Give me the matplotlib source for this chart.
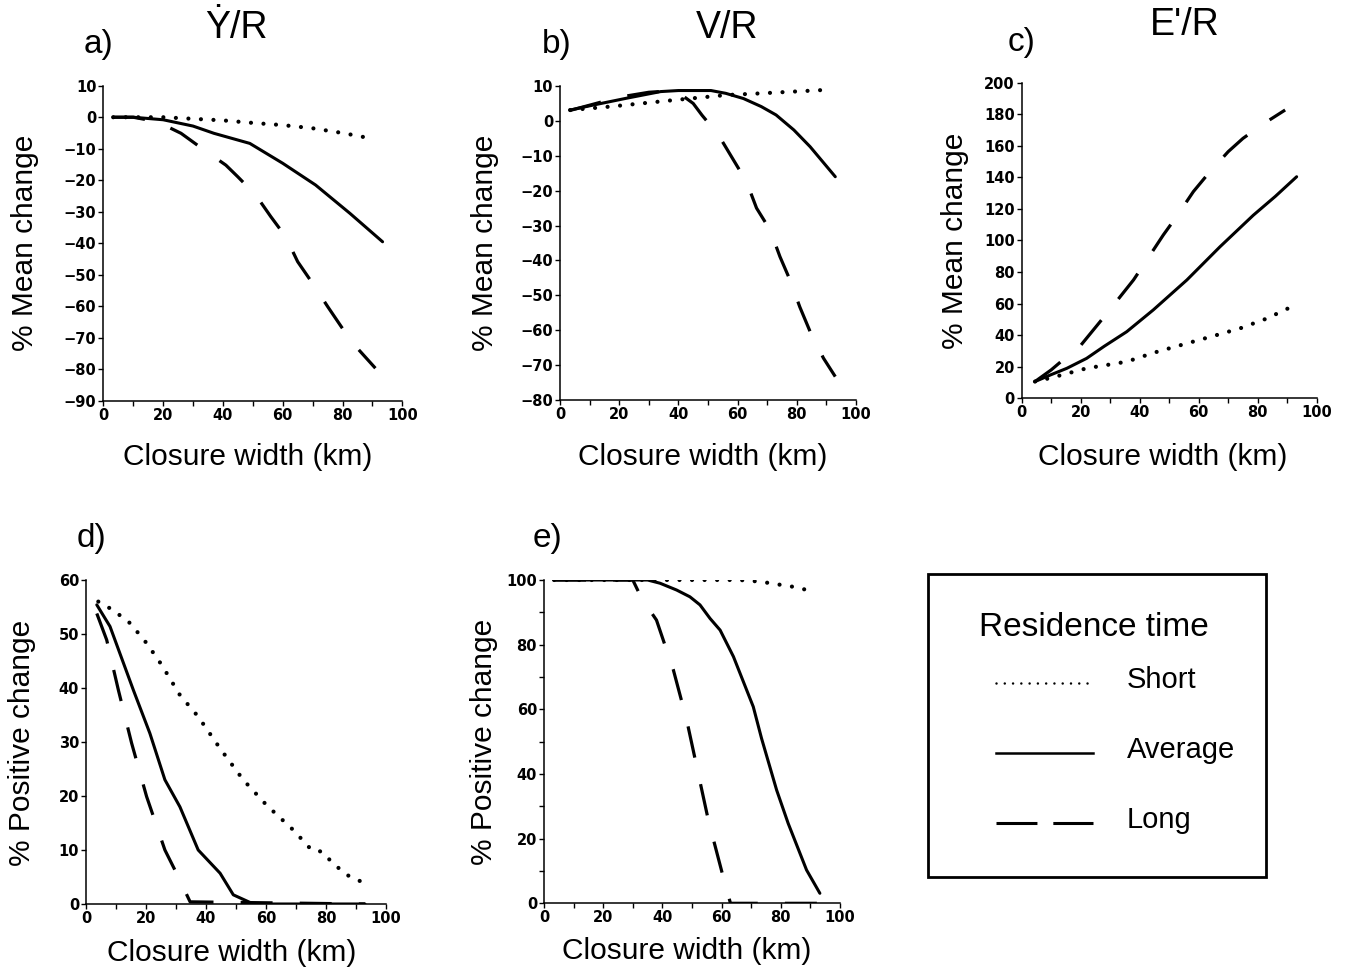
import matplotlib
matplotlib.use("Agg")
import matplotlib.pyplot as plt
from matplotlib.lines import Line2D
from matplotlib.patches import Rectangle
from matplotlib.ticker import MultipleLocator

W, H = 1348, 972

# ===================== DATA =====================
# a) Y/R  (% mean change)
a_short_x = [3.3, 10, 20, 30, 40, 50, 60, 70, 80, 90]
a_short_y = [0, 0, 0, -0.5, -1, -1.8, -2.5, -3.5, -5, -6.8]
a_avg_x = [3.3, 10, 20, 30, 37, 49, 60, 71, 82.5, 93.4]
a_avg_y = [0, 0, -0.8, -2.8, -5.1, -8.3, -14.6, -21.5, -30.5, -39.5]
a_long_x = [3.3, 10, 18, 26, 33, 41, 45, 51, 56, 61, 65, 70, 75, 80, 85, 91]
a_long_y = [0, 0, -1.4, -5.1, -9.9, -15.2, -18.9, -24.7, -31.5, -37.9,
            -45.8, -52.7, -60, -67, -73.3, -79.6]

# b) V/R
b_short_x = [3.4, 17, 39, 56, 68, 90]
b_short_y = [3.1, 4.1, 6.0, 7.4, 7.9, 8.9]
b_avg_x = [3.4, 11, 22.5, 34, 40, 51, 56, 62, 68, 73, 79, 84.5, 93]
b_avg_y = [3.1, 4.5, 6.5, 8.4, 8.7, 8.7, 7.9, 6.4, 4.1, 1.7, -2.6, -7.4, -16]
b_long_x = [3.4, 10, 20, 30, 37, 41, 45, 48, 53.5, 58.6, 63, 66.4, 71,
            74.3, 77.7, 81, 84.5, 89, 93]
b_long_y = [3, 4.5, 6.8, 8.2, 8.6, 7.5, 5, 1.6, -4, -11.2, -17.4, -25,
            -31.3, -38.9, -45.6, -53.3, -60.4, -68, -73.3]

# c) E'/R
c_short_x = [4.5, 10, 22, 35.6, 45, 56, 65, 74, 83, 91]
c_short_y = [10.6, 13, 19, 23.2, 29, 34.8, 39.5, 44.3, 50.5, 57.6]
c_avg_x = [4.5, 10, 15.3, 22, 28, 35.6, 44.6, 56, 67.2, 78.5, 86, 93.2]
c_avg_y = [10.6, 15, 19, 25.3, 33, 42.2, 56, 75, 96, 116, 128, 140.4]
c_long_x = [4.5, 10, 15.3, 19.2, 26.6, 31.6, 37.9, 42.4, 48, 52.5, 58.2,
            63.3, 70, 75, 82, 89.3]
c_long_y = [10.6, 18, 26.4, 31.7, 48.6, 60.2, 75, 87.6, 103.5, 115.2, 131,
            142.5, 156.3, 164.7, 174, 182.7]

# d) % positive change (Y/R)
d_short_x = [4.1, 9.1, 14.7, 20.2, 25.2, 31.3, 37.4, 44.7, 52.4, 60.2, 69.1,
             75.2, 78.6, 82.4, 86.9, 91.9]
d_short_y = [56, 54.4, 52, 48.3, 44.3, 38.7, 34.7, 28.8, 23, 18.3, 13.7,
             10, 9.7, 7.5, 5.4, 4.1]
d_avg_x = [3.6, 8, 15.8, 21.3, 26.3, 31.3, 37.4, 44.7, 49.1, 55.8, 93]
d_avg_y = [55.4, 51.4, 39.6, 31.6, 23, 18, 10, 5.7, 1.7, 0, 0]
d_long_x = [3.6, 6.9, 10.8, 15.2, 20.2, 26.3, 30.8, 34.7, 93]
d_long_y = [53.8, 48.9, 39.6, 29.8, 19.9, 10, 5, 0.4, 0]

# e) % positive change (V/R)
e_short_x = [3.4, 20, 40, 60, 66, 73, 84.2, 89.9]
e_short_y = [100, 100, 100, 100, 100, 99.5, 97.9, 96.7]
e_avg_x = [3.4, 35, 39.2, 44.8, 49.3, 52.7, 56.1, 59.5, 64, 70.7, 73.5,
           78.6, 82.5, 88.7, 93.2]
e_avg_y = [100, 100, 99, 96.9, 94.8, 92.3, 88.1, 84.5, 76.3, 60.8, 51, 35,
           24.7, 10.3, 3.1]
e_long_x = [3.4, 30, 33, 38, 43.7, 48.2, 51.6, 55.5, 61.1, 63, 93]
e_long_y = [100, 100, 94.3, 87.6, 72.2, 56.7, 42.3, 25.8, 6.2, 0, 0]

series_names = ["Short", "Average", "Long"]

# ===================== STYLE =====================
FONT = ["Liberation Sans", "DejaVu Sans"]
plt.rcParams["font.family"] = FONT

DOT = dict(color="black", lw=3.0, linestyle=(0, (0.01, 3.0)),
           dash_capstyle="round", solid_capstyle="round")
SOLID = dict(color="black", lw=2.2, linestyle="-", solid_capstyle="round")
DASH = dict(color="black", lw=2.3, linestyle=(0, (10, 8.5)),
            dash_capstyle="butt")

fig = plt.figure(figsize=(W / 100, H / 100), dpi=100)


def px(x, y):
    return x / W, 1 - y / H


def make_ax(x0, x1, ytop, ybot, ylim, ymajor, yminor=None):
    ax = fig.add_axes([x0 / W, 1 - ybot / H, (x1 - x0) / W, (ybot - ytop) / H])
    ax.set_xlim(0, 100)
    ax.set_ylim(*ylim)
    ax.spines["top"].set_visible(False)
    ax.spines["right"].set_visible(False)
    for s in ("left", "bottom"):
        ax.spines[s].set_linewidth(1.1)
    ax.xaxis.set_major_locator(MultipleLocator(20))
    ax.xaxis.set_minor_locator(MultipleLocator(10))
    ax.yaxis.set_major_locator(MultipleLocator(ymajor))
    if yminor:
        ax.yaxis.set_minor_locator(MultipleLocator(yminor))
    ax.tick_params(which="both", direction="out", length=3.5, width=1.0, pad=1.5)
    return ax


def draw(ax, sx, sy, ax_, ay, lx, ly):
    ax.plot(sx, sy, **DOT)
    ax.plot(ax_, ay, **SOLID)
    ax.plot(lx, ly, **DASH)


# ===================== PANELS =====================
ax_a = make_ax(103.3, 402.3, 85.7, 401, (-90, 10), 10)
draw(ax_a, a_short_x, a_short_y, a_avg_x, a_avg_y, a_long_x, a_long_y)

ax_b = make_ax(560, 856, 86, 400, (-80, 10), 10)
draw(ax_b, b_short_x, b_short_y, b_avg_x, b_avg_y, b_long_x, b_long_y)

ax_c = make_ax(1021.7, 1316.7, 82.7, 398.3, (0, 200), 20)
draw(ax_c, c_short_x, c_short_y, c_avg_x, c_avg_y, c_long_x, c_long_y)

ax_d = make_ax(86, 386, 580, 904, (0, 60), 10)
draw(ax_d, d_short_x, d_short_y, d_avg_x, d_avg_y, d_long_x, d_long_y)

ax_e = make_ax(544, 840, 580, 903.3, (0, 100), 20, 10)
draw(ax_e, e_short_x, e_short_y, e_avg_x, e_avg_y, e_long_x, e_long_y)

for ax in (ax_a, ax_b, ax_c, ax_d, ax_e):
    for lab in ax.get_xticklabels() + ax.get_yticklabels():
        lab.set_family("DejaVu Sans")
        lab.set_fontweight("bold")
        lab.set_fontsize(10.5)

# ===================== TEXT =====================
titles = [("\u1E8E/R", 236, 38), ("V/R", 727, 38), ("E'/R", 1185, 35)]
for t, x, y in titles:
    fig.text(*px(x, y), t, fontsize=27, ha="center", va="baseline")

letters = [("a)", 84, 53), ("b)", 542, 53), ("c)", 1008, 51),
           ("d)", 77, 547), ("e)", 533, 547)]
for t, x, y in letters:
    fig.text(*px(x, y), t, fontsize=24, ha="left", va="baseline")

xlabels = [(248, 457), (703, 457), (1163, 457), (232, 953), (687, 951)]
for x, y in xlabels:
    fig.text(*px(x, y), "Closure width (km)", fontsize=21.5,
             ha="center", va="center")

ylabels = [("% Mean change", 25, 243), ("% Mean change", 485, 243),
           ("% Mean change", 955, 241), ("% Positive change", 22, 743),
           ("% Positive change", 484, 742)]
for t, x, y in ylabels:
    fig.text(*px(x, y), t, fontsize=21.5, rotation=90,
             ha="center", va="center")

# ===================== LEGEND BOX =====================
bx0, bx1, by0, by1 = 928, 1266, 574, 877
fig.add_artist(Rectangle(px(bx0, by1), (bx1 - bx0) / W, (by1 - by0) / H,
                         transform=fig.transFigure, fill=False,
                         edgecolor="black", lw=2.0))
fig.text(*px(1094, 627), "Residence time", fontsize=24,
         ha="center", va="center")

leg_styles = [
    dict(color="black", lw=1.8, linestyle=(0, (0.01, 3.3)),
         dash_capstyle="round"),
    dict(color="black", lw=1.8, linestyle="-"),
    dict(color="black", lw=2.2, linestyle=(0, (13.4, 5.2))),
]
leg_rows = [683, 753, 823]
for name, style, yy in zip(series_names, leg_styles, leg_rows):
    x0, y0 = px(996, yy)
    x1, _ = px(1093, yy)
    fig.add_artist(Line2D([x0, x1], [y0, y0], transform=fig.transFigure,
                          **style))
    fig.text(*px(1127, yy - 3), name, fontsize=21, ha="left", va="center")

fig.savefig("out.png", dpi=100)
